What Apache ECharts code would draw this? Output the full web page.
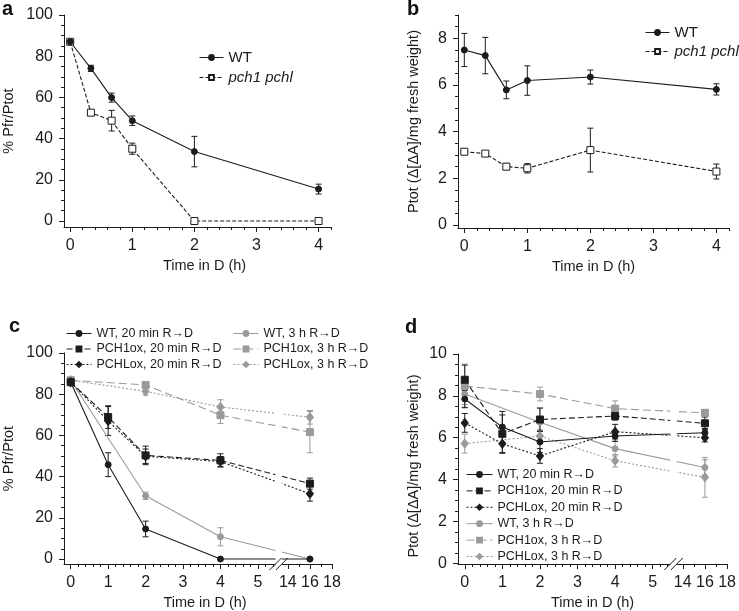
<!DOCTYPE html>
<html><head><meta charset="utf-8">
<script src="https://cdn.jsdelivr.net/npm/echarts@6/dist/echarts.min.js"></script>
<style>html,body{margin:0;padding:0;background:#fff}#chart{width:739px;height:611px}</style>
</head><body><div id="chart"></div>
<script>
// ---------- DATA ----------
// Panel a: % Pfr/Ptot
const aTime = [0, 0.333, 0.667, 1, 2, 4];
const aWT = [87, 74.1, 59.9, 48.7, 33.7, 15.5];
const aWTErr = [0, 1.5, 2.2, 2.3, 7.4, 2.4];
const aPch = [87, 52.6, 48.7, 35.1, 0, 0];
const aPchErr = [0, 1, 5, 2.7, 0, 0];
// Panel b: Ptot
const bTime = [0, 0.333, 0.667, 1, 2, 4];
const bWT = [7.5, 7.26, 5.79, 6.19, 6.34, 5.81];
const bWTErr = [0.71, 0.78, 0.38, 0.63, 0.3, 0.24];
const bPch = [3.14, 3.06, 2.5, 2.43, 3.21, 2.29];
const bPchErr = [0.07, 0.07, 0.13, 0.2, 0.94, 0.32];
// Panel c: % Pfr/Ptot (hours in darkness)
const cTime20 = [0, 1, 2, 4, 16];
const cTime3 = [0, 2, 4, 16];
const cWT20 = [85.8, 45.8, 14.6, 0, 0];
const cWT20Err = [0, 5.8, 3.8, 0, 0];
const cPCH1ox20 = [85.8, 68.9, 50.3, 47.9, 36.6];
const cPCH1ox20Err = [0, 5.5, 4.5, 3.2, 2.7];
const cPCHLox20 = [85.8, 67.0, 49.9, 47.3, 31.7];
const cPCHLox20Err = [0, 7, 3.5, 2.5, 3.6];
const cWT3 = [86.8, 30.7, 10.8, 0];
const cWT3Err = [0, 1.8, 4.4, 0];
const cPCH1ox3 = [86.8, 84.5, 69.8, 61.6];
const cPCH1ox3Err = [0, 1, 4, 10];
const cPCHLox3 = [86.8, 81.4, 73.8, 68.8];
const cPCHLox3Err = [0, 1.8, 3.5, 3.3];
// Panel d: Ptot
const dTime20 = [0, 1, 2, 4, 16];
const dTime3 = [0, 2, 4, 16];
const dWT20 = [7.85, 6.51, 5.8, 6.08, 6.24];
const dWT20Err = [0.4, 0.75, 0.5, 0.25, 0.2];
const dPCH1ox20 = [8.77, 6.19, 6.87, 7.04, 6.69];
const dPCH1ox20Err = [0.7, 0.9, 0.55, 0.2, 0.3];
const dPCHLox20 = [6.71, 5.71, 5.13, 6.29, 6.0];
const dPCHLox20Err = [0.45, 0.45, 0.35, 0.35, 0.2];
const dWT3 = [8.09, 6.74, 5.48, 4.58];
const dWT3Err = [0.5, 0.67, 0.35, 0.37];
const dPCH1ox3 = [8.47, 8.09, 7.39, 7.19];
const dPCH1ox3Err = [1.05, 0.33, 0.37, 0.15];
const dPCHLox3 = [5.72, 6.08, 4.9, 4.11];
const dPCHLox3Err = [0.45, 0.3, 0.3, 0.95];
// Tick labels
const abXTicks = [0, 1, 2, 3, 4];
const cdXTicks = [0, 1, 2, 3, 4, 5, 14, 16, 18];
const acYTicks = [0, 20, 40, 60, 80, 100];
const bYTicks = [0, 2, 4, 6, 8];
const dYTicks = [0, 2, 4, 6, 8, 10];
// Series names
const abNames = ['WT', 'pch1 pchl'];
const cdNames = ['WT, 20 min R\u2192D', 'PCH1ox, 20 min R\u2192D', 'PCHLox, 20 min R\u2192D',
                 'WT, 3 h R\u2192D', 'PCH1ox, 3 h R\u2192D', 'PCHLox, 3 h R\u2192D'];

// ---------- LAYOUT / STYLE ----------
const FONT = "'Liberation Sans', Arial, Helvetica, sans-serif";
const INK = '#1c1c1c';
const GRAY = '#9a9a9a';
const LBL = 16, NAME = 14.5;
// broken x axis (c, d): 0-5 h linear, 14-18 h compressed
function toAxis(t) { return t <= 5.5 ? t : 6.39 + (t - 16) * 0.295; }
function fromAxis(v) { return v <= 5.5 ? v : 16 + (v - 6.39) / 0.295; }
const BRK_L = 5.47, BRK_R = 5.64;

function range(a, b, s) { const r = []; for (let v = a; v <= b + 1e-9; v += s) r.push(+v.toFixed(4)); return r; }
function minorsOf(all, majors) { return all.filter(v => !majors.some(m => Math.abs(m - v) < 1e-6)); }

const grids = [
  { left: 61, top: 15, width: 270, height: 212 },
  { left: 458, top: 15, width: 271, height: 213 },
  { left: 61, top: 353, width: 271, height: 213 },
  { left: 458, top: 354, width: 271, height: 212 }
];

function xAxesFor(gi, min, max, majors, minors, fmt, namePad) {
  return [{
    type: 'value', gridIndex: gi, min, max, position: 'bottom',
    axisLine: { show: true, onZero: false, lineStyle: { color: INK, width: 1 } },
    axisTick: { show: true, customValues: majors, length: 5, lineStyle: { color: INK } },
    axisLabel: { customValues: majors, formatter: fmt, color: INK, fontSize: LBL, fontFamily: FONT, margin: 10.5 },
    splitLine: { show: false },
    name: 'Time in D (h)', nameLocation: 'middle', nameGap: 31,
    nameTextStyle: { color: INK, fontSize: NAME, fontFamily: FONT, padding: [0, 0, 0, namePad] }
  }, {
    type: 'value', gridIndex: gi, min, max, position: 'bottom',
    axisLine: { show: false, onZero: false }, axisLabel: { show: false }, splitLine: { show: false },
    axisTick: { show: true, customValues: minors, length: 3, lineStyle: { color: INK } }
  }];
}
function yAxesFor(gi, min, max, majors, minors, name, gap, namePad) {
  return [{
    type: 'value', gridIndex: gi, min, max, position: 'left',
    axisLine: { show: true, onZero: false, lineStyle: { color: INK, width: 1 } },
    axisTick: { show: true, customValues: majors, length: 5, lineStyle: { color: INK } },
    axisLabel: { customValues: majors, color: INK, fontSize: LBL, fontFamily: FONT, margin: 11 },
    splitLine: { show: false },
    name, nameLocation: 'middle', nameGap: gap,
    nameTextStyle: { color: INK, fontSize: NAME, fontFamily: FONT, padding: namePad || 0 }
  }, {
    type: 'value', gridIndex: gi, min, max, position: 'left',
    axisLine: { show: false, onZero: false }, axisLabel: { show: false }, splitLine: { show: false },
    axisTick: { show: true, customValues: minors, length: 3, lineStyle: { color: INK } }
  }];
}

const abMinX = minorsOf(range(0.2, 4.2, 0.2), abXTicks);
const cdMinX = minorsOf(range(0.2, 5.4, 0.2), cdXTicks).concat([15, 17]).map(toAxis);
const cdMajX = cdXTicks.map(toAxis);
const cdFmt = v => String(Math.round(fromAxis(v)));

const xAxis = [].concat(
  xAxesFor(0, -0.1, 4.2, abXTicks, abMinX, v => String(v), 14),
  xAxesFor(1, -0.1, 4.2, abXTicks, abMinX, v => String(v), 0),
  xAxesFor(2, -0.18, toAxis(18), cdMajX, cdMinX, cdFmt, 14),
  xAxesFor(3, -0.18, toAxis(18), cdMajX, cdMinX, cdFmt, 0)
);
const yAxis = [].concat(
  yAxesFor(0, -2.9, 100, acYTicks, minorsOf(range(5, 100, 5), acYTicks), '% Pfr/Ptot', 48),
  yAxesFor(1, -0.13, 9, bYTicks, minorsOf(range(0.5, 9, 0.5), bYTicks), 'Ptot (\u0394[\u0394A]/mg fresh weight)', 37),
  yAxesFor(2, -2.4, 100, acYTicks, minorsOf(range(5, 100, 5), acYTicks), '% Pfr/Ptot', 48),
  yAxesFor(3, -0.03, 10, dYTicks, minorsOf(range(0.5, 10, 0.5), dYTicks), 'Ptot (\u0394[\u0394A]/mg fresh weight)', 37, [0, 14, 0, 0])
);

// styles
const ST = {
  wt:   { color: INK, symbol: 'circle', size: 6, dash: 'solid', fill: INK },
  open: { color: INK, symbol: 'rect', size: 7, dash: [4, 2], fill: '#fff' },
  p1:   { color: INK, symbol: 'rect', size: 7, dash: [6, 3], fill: INK },
  pl:   { color: INK, symbol: 'diamond', size: [7, 9], dash: [2, 2], fill: INK },
  gwt:  { color: GRAY, symbol: 'circle', size: 6, dash: 'solid', fill: GRAY },
  gp1:  { color: GRAY, symbol: 'rect', size: 7, dash: [8, 4], fill: GRAY },
  gpl:  { color: GRAY, symbol: 'diamond', size: [7, 9], dash: [2, 2], fill: GRAY }
};

function lineS(name, gi, xs, ys, st) {
  return {
    type: 'line', name, xAxisIndex: 2 * gi, yAxisIndex: 2 * gi,
    data: xs.map((x, i) => [x, ys[i]]),
    symbol: st.symbol, symbolSize: st.size, showAllSymbol: true, clip: false,
    lineStyle: { color: st.color, width: 1.1, type: st.dash },
    itemStyle: { color: st.fill, borderColor: st.color, borderWidth: 1 },
    emphasis: { disabled: true }, animation: false, z: 3
  };
}
function errS(gi, xs, ys, es, color) {
  return {
    type: 'custom', xAxisIndex: 2 * gi, yAxisIndex: 2 * gi, silent: true, animation: false, z: 2, clip: false,
    data: xs.map((x, i) => [x, ys[i], es[i]]),
    renderItem: (p, api) => {
      const x = api.value(0), y = api.value(1), e = api.value(2);
      if (!e) return null;
      const t = api.coord([x, y + e]), b = api.coord([x, y - e]);
      const hw = 3, st = { stroke: color, lineWidth: 1 };
      return { type: 'group', children: [
        { type: 'line', shape: { x1: t[0], y1: t[1], x2: b[0], y2: b[1] }, style: st },
        { type: 'line', shape: { x1: t[0] - hw, y1: t[1], x2: t[0] + hw, y2: t[1] }, style: st },
        { type: 'line', shape: { x1: b[0] - hw, y1: b[1], x2: b[0] + hw, y2: b[1] }, style: st }
      ] };
    }
  };
}
function breakS(gi, ymin, ymax) {
  return {
    type: 'custom', xAxisIndex: 2 * gi, yAxisIndex: 2 * gi, silent: true, animation: false, z: 10, clip: false,
    data: [[BRK_L, BRK_R]],
    renderItem: (p, api) => {
      const tl = api.coord([api.value(0), ymax]), br = api.coord([api.value(1), ymin]);
      const y0 = br[1], s = 6, st = { stroke: INK, lineWidth: 1 };
      return { type: 'group', children: [
        { type: 'rect', shape: { x: tl[0], y: tl[1], width: br[0] - tl[0], height: br[1] - tl[1] + 2 }, style: { fill: '#fff' } },
        { type: 'line', shape: { x1: tl[0] - s, y1: y0 + s, x2: tl[0] + s, y2: y0 - s }, style: st },
        { type: 'line', shape: { x1: br[0] - s, y1: y0 + s, x2: br[0] + s, y2: y0 - s }, style: st }
      ] };
    }
  };
}

const c20 = cTime20.map(toAxis), c3 = cTime3.map(toAxis);
const d20 = dTime20.map(toAxis), d3 = dTime3.map(toAxis);

const series = [
  // a
  errS(0, aTime, aPch, aPchErr, INK), errS(0, aTime, aWT, aWTErr, INK),
  lineS(abNames[1], 0, aTime, aPch, ST.open), lineS(abNames[0], 0, aTime, aWT, ST.wt),
  // b
  errS(1, bTime, bPch, bPchErr, INK), errS(1, bTime, bWT, bWTErr, INK),
  lineS(abNames[1], 1, bTime, bPch, ST.open), lineS(abNames[0], 1, bTime, bWT, ST.wt),
  // c
  errS(2, c3, cWT3, cWT3Err, GRAY), errS(2, c3, cPCH1ox3, cPCH1ox3Err, GRAY), errS(2, c3, cPCHLox3, cPCHLox3Err, GRAY),
  lineS(cdNames[3], 2, c3, cWT3, ST.gwt), lineS(cdNames[4], 2, c3, cPCH1ox3, ST.gp1), lineS(cdNames[5], 2, c3, cPCHLox3, ST.gpl),
  errS(2, c20, cWT20, cWT20Err, INK), errS(2, c20, cPCH1ox20, cPCH1ox20Err, INK), errS(2, c20, cPCHLox20, cPCHLox20Err, INK),
  lineS(cdNames[0], 2, c20, cWT20, ST.wt), lineS(cdNames[1], 2, c20, cPCH1ox20, ST.p1), lineS(cdNames[2], 2, c20, cPCHLox20, ST.pl),
  breakS(2, -2.4, 100),
  // d
  errS(3, d3, dWT3, dWT3Err, GRAY), errS(3, d3, dPCH1ox3, dPCH1ox3Err, GRAY), errS(3, d3, dPCHLox3, dPCHLox3Err, GRAY),
  lineS(cdNames[3], 3, d3, dWT3, ST.gwt), lineS(cdNames[4], 3, d3, dPCH1ox3, ST.gp1), lineS(cdNames[5], 3, d3, dPCHLox3, ST.gpl),
  errS(3, d20, dWT20, dWT20Err, INK), errS(3, d20, dPCH1ox20, dPCH1ox20Err, INK), errS(3, d20, dPCHLox20, dPCHLox20Err, INK),
  lineS(cdNames[0], 3, d20, dWT20, ST.wt), lineS(cdNames[1], 3, d20, dPCH1ox20, ST.p1), lineS(cdNames[2], 3, d20, dPCHLox20, ST.pl),
  breakS(3, -0.03, 10)
];

function legend(left, top, names, fs, gap, width) {
  return {
    left, top, orient: 'vertical', itemWidth: width, itemHeight: 6, itemGap: gap, padding: 0, z: 20,
    selectedMode: false, data: names,
    lineStyle: { width: 1 },
    textStyle: { color: INK, fontSize: fs, fontFamily: FONT, rich: { i: { fontStyle: 'italic', fontSize: fs, fontFamily: FONT, color: INK } } },
    formatter: n => n === 'pch1 pchl' ? '{i|pch1 pchl}' : n
  };
}

const titleStyle = { fontSize: 20, fontWeight: 'bold', fontFamily: FONT, color: '#111' };
const option = {
  backgroundColor: '#fff',
  animation: false,
  title: [
    { text: 'a', left: 2, top: -1, padding: 0, textStyle: titleStyle },
    { text: 'b', left: 407, top: -1, padding: 0, textStyle: titleStyle },
    { text: 'c', left: 9, top: 316, padding: 0, textStyle: titleStyle },
    { text: 'd', left: 405, top: 317, padding: 0, textStyle: titleStyle }
  ],
  grid: grids,
  xAxis, yAxis,
  legend: [
    legend(199, 50, abNames, 15, 5, 24),
    legend(645, 25, abNames, 15, 4, 24),
    legend(66, 327, cdNames.slice(0, 3), 12.5, 2.5, 25),
    legend(233, 327, cdNames.slice(3), 12.5, 2.5, 25),
    legend(466, 468, cdNames, 12.5, 3.4, 26)
  ],
  series
};
const chart = echarts.init(document.getElementById('chart'), null, { renderer: 'canvas' });
chart.setOption(option);
</script></body></html>
